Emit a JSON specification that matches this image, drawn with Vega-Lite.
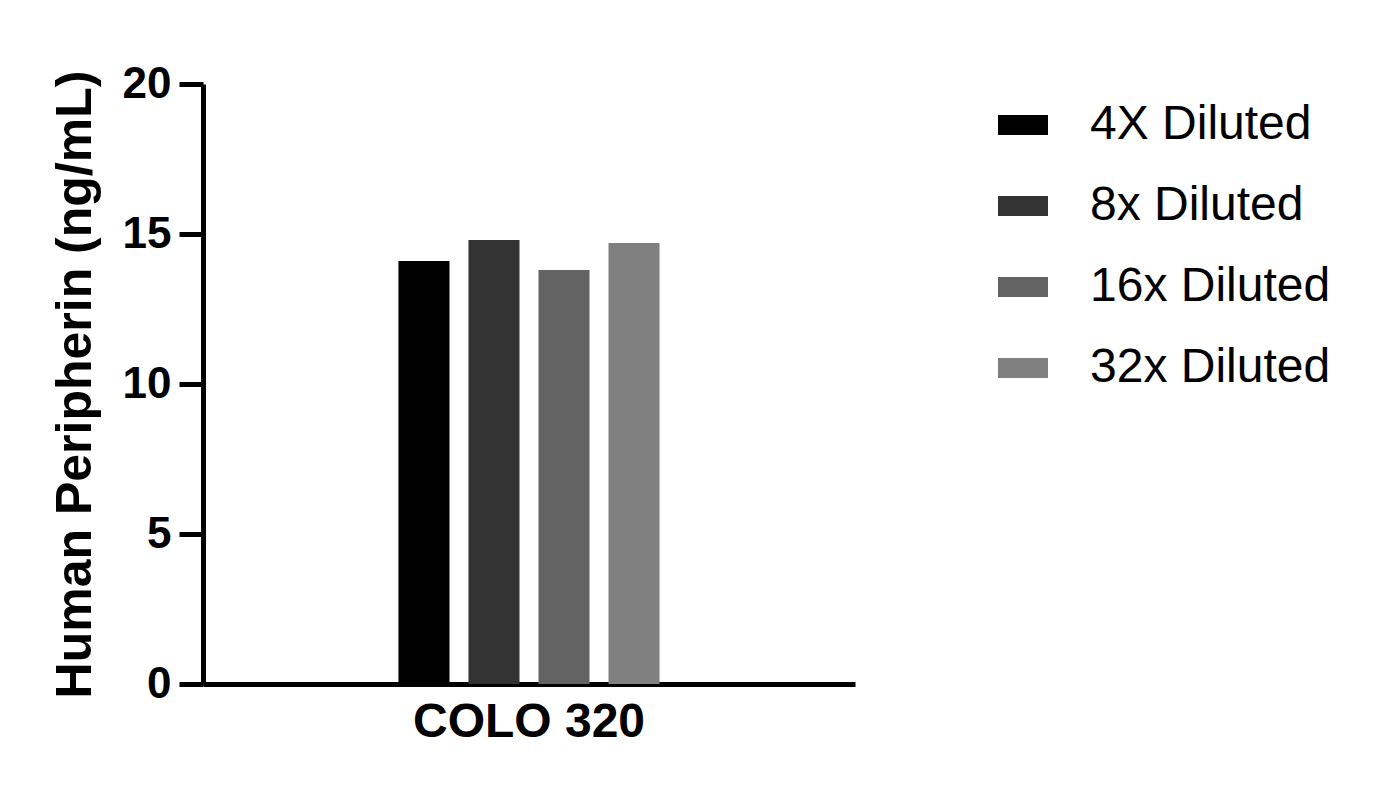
{
  "$schema": "https://vega.github.io/schema/vega-lite/v6.json",
  "autosize": {"type": "none"},
  "padding": {"left": 203, "top": 84, "right": 518, "bottom": 120},
  "width": 652,
  "height": 600,
  "config": {
    "view": {"stroke": null},
    "font": "Liberation Sans",
    "axis": {"domainColor": "black", "domainWidth": 5, "tickColor": "black", "tickWidth": 5, "grid": false, "labelColor": "black", "titleColor": "black", "labelLimit": 0}
  },
  "data": {
    "values": [
      {"cell": "COLO 320", "dilution": "4X Diluted", "value": 14.1},
      {"cell": "COLO 320", "dilution": "8x Diluted", "value": 14.8},
      {"cell": "COLO 320", "dilution": "16x Diluted", "value": 13.8},
      {"cell": "COLO 320", "dilution": "32x Diluted", "value": 14.7}
    ]
  },
  "mark": {"type": "bar"},
  "encoding": {
    "x": {
      "field": "cell",
      "type": "nominal",
      "scale": {"paddingInner": 0, "paddingOuter": 0.664},
      "axis": {"title": null, "ticks": false, "labelAngle": 0, "labelFontSize": 48, "labelFontWeight": "bold", "labelPadding": 14}
    },
    "xOffset": {
      "field": "dilution",
      "type": "nominal",
      "sort": ["4X Diluted", "8x Diluted", "16x Diluted", "32x Diluted"],
      "scale": {"paddingInner": 0.271, "paddingOuter": 0.1355}
    },
    "y": {
      "field": "value",
      "type": "quantitative",
      "scale": {"domain": [0, 20]},
      "axis": {"title": "Human Peripherin (ng/mL)", "values": [0, 5, 10, 15, 20], "tickSize": 24, "labelPadding": 8, "labelFontSize": 44, "labelFontWeight": "bold", "titleFontSize": 50, "titleFontWeight": "bold", "titlePadding": 22}
    },
    "color": {
      "field": "dilution",
      "type": "nominal",
      "sort": ["4X Diluted", "8x Diluted", "16x Diluted", "32x Diluted"],
      "scale": {"range": ["#000000", "#333333", "#636363", "#808080"]},
      "legend": {
        "title": null,
        "orient": "none",
        "legendX": 795,
        "legendY": 16,
        "padding": 0,
        "symbolType": "M-1,-0.4H1V0.4H-1Z",
        "symbolSize": 2500,
        "symbolStrokeWidth": 0,
        "labelOffset": 42,
        "labelFontSize": 48,
        "labelLimit": 0,
        "labelColor": "black",
        "rowPadding": 32
      }
    }
  }
}
